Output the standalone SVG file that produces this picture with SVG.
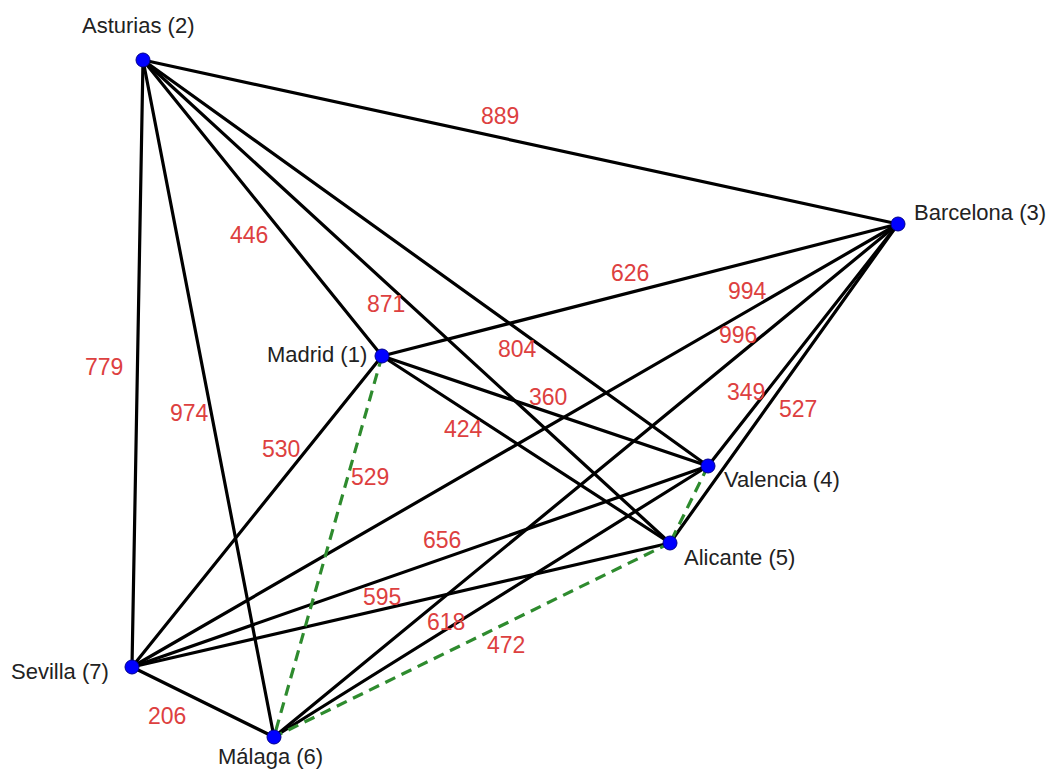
<svg xmlns="http://www.w3.org/2000/svg" width="1054" height="769" viewBox="0 0 1054 769">
<style>
.e{stroke:#000;stroke-width:3.2;fill:none;stroke-linecap:round}
.d{stroke:#2e8b2e;stroke-width:3.2;fill:none;stroke-dasharray:11 7}
.n{fill:#0000ff;stroke:#00008b;stroke-width:1}
.t{font-family:"Liberation Sans",Arial,sans-serif;font-size:22px;fill:#222}
.w{font-family:"Liberation Sans",Arial,sans-serif;font-size:23px;fill:#dd4040}
</style>
<rect width="1054" height="769" fill="#fff"/>
<g id="connectors">
<line class="e" x1="143" y1="60" x2="898" y2="224"/>
<line class="e" x1="143" y1="60" x2="382" y2="356"/>
<line class="e" x1="143" y1="60" x2="708" y2="466"/>
<line class="e" x1="143" y1="60" x2="670" y2="543"/>
<line class="e" x1="143" y1="60" x2="132" y2="667"/>
<line class="e" x1="143" y1="60" x2="274" y2="737"/>
<line class="e" x1="898" y1="224" x2="382" y2="356"/>
<line class="e" x1="898" y1="224" x2="708" y2="466"/>
<line class="e" x1="898" y1="224" x2="670" y2="543"/>
<line class="e" x1="898" y1="224" x2="132" y2="667"/>
<line class="e" x1="898" y1="224" x2="274" y2="737"/>
<line class="e" x1="382" y1="356" x2="708" y2="466"/>
<line class="e" x1="382" y1="356" x2="670" y2="543"/>
<line class="e" x1="382" y1="356" x2="132" y2="667"/>
<line class="e" x1="708" y1="466" x2="132" y2="667"/>
<line class="e" x1="708" y1="466" x2="274" y2="737"/>
<line class="e" x1="670" y1="543" x2="132" y2="667"/>
<line class="e" x1="132" y1="667" x2="274" y2="737"/>
<line class="d" x1="382" y1="356" x2="274" y2="737"/>
<line class="d" x1="708" y1="466" x2="670" y2="543"/>
<line class="d" x1="670" y1="543" x2="274" y2="737"/>
</g>
<g id="edge-labels">
<text class="w" x="481" y="124">889</text>
<text class="w" x="230" y="243">446</text>
<text class="w" x="611" y="281">626</text>
<text class="w" x="728" y="299">994</text>
<text class="w" x="367" y="312">871</text>
<text class="w" x="719" y="343">996</text>
<text class="w" x="498" y="357">804</text>
<text class="w" x="529" y="405">360</text>
<text class="w" x="727" y="400">349</text>
<text class="w" x="779" y="417">527</text>
<text class="w" x="444" y="437">424</text>
<text class="w" x="85" y="375">779</text>
<text class="w" x="170" y="421">974</text>
<text class="w" x="262" y="457">530</text>
<text class="w" x="351" y="485">529</text>
<text class="w" x="423" y="548">656</text>
<text class="w" x="363" y="605">595</text>
<text class="w" x="427" y="630">618</text>
<text class="w" x="487" y="653">472</text>
<text class="w" x="148" y="724">206</text>
</g>
<g id="n1"><circle class="n" cx="382" cy="356" r="7"/><text class="t" x="267" y="362">Madrid (1)</text></g>
<g id="n2"><circle class="n" cx="143" cy="60" r="7"/><text class="t" x="82" y="33">Asturias (2)</text></g>
<g id="n3"><circle class="n" cx="898" cy="224" r="7"/><text class="t" x="914" y="220">Barcelona (3)</text></g>
<g id="n4"><circle class="n" cx="708" cy="466" r="7"/><text class="t" x="724" y="487">Valencia (4)</text></g>
<g id="n5"><circle class="n" cx="670" cy="543" r="7"/><text class="t" x="684" y="565">Alicante (5)</text></g>
<g id="n6"><circle class="n" cx="274" cy="737" r="7"/><text class="t" x="218" y="764">Málaga (6)</text></g>
<g id="n7"><circle class="n" cx="132" cy="667" r="7"/><text class="t" x="11" y="679">Sevilla (7)</text></g>
</svg>
